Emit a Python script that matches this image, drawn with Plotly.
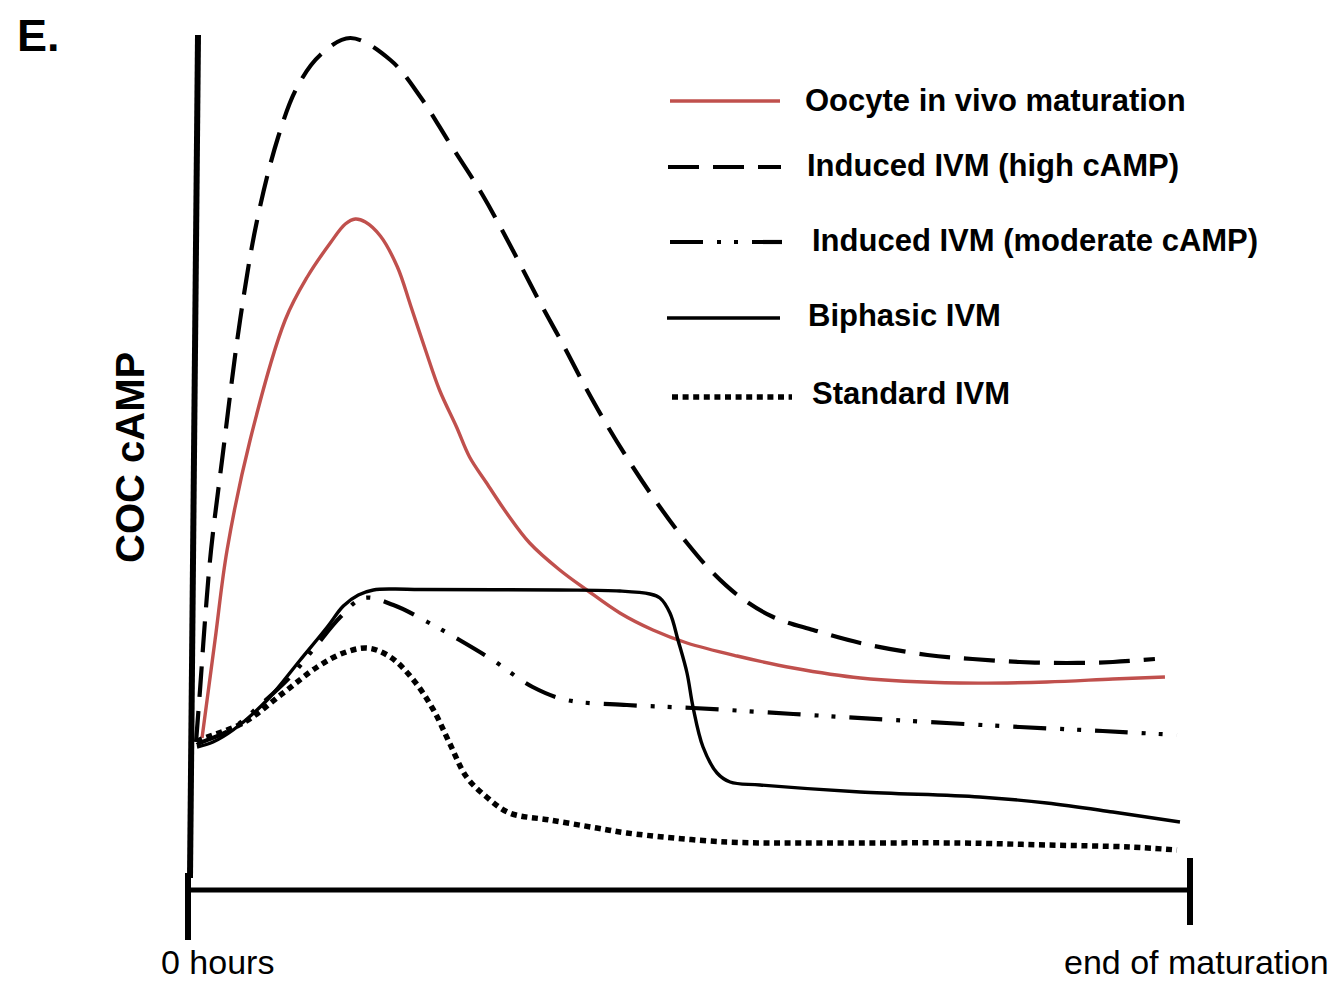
import plotly.graph_objects as go

# ---------------- data (x: % of maturation time, y: COC cAMP, arbitrary units) ----------------
invivo_x = [1.4, 2.7, 3.9, 6.2, 9.7, 11.9, 14.2, 15.7, 16.7, 17.7, 19.2, 20.9, 22.2, 23.7, 25.1,
            26.8, 28.1, 29.8, 31.8, 34.1, 37.1, 39.8, 43.1, 46.4, 49.8, 54.8, 60.4, 67.1, 77.0,
            85.7, 92.3, 97.5]
invivo_y = [15.2, 25.0, 34.0, 45.0, 57.0, 61.3, 64.7, 66.6, 67.1, 66.8, 65.4, 62.3, 58.5, 54.0, 50.0,
            46.3, 43.3, 40.7, 37.7, 34.7, 32.0, 30.0, 27.7, 26.0, 24.7, 23.4, 22.2, 21.2, 20.7,
            20.8, 21.1, 21.3]

high_x = [0.8, 1.2, 1.7, 2.3, 3.4, 5.2, 6.9, 9.0, 10.9, 13.2, 16.2, 20.2, 23.2, 26.1, 29.4, 32.4,
          35.1, 37.4, 39.6, 41.8, 44.4, 47.1, 49.8, 52.4, 55.1, 58.4, 62.4, 67.1, 73.8, 78.3,
          83.0, 87.7, 92.3, 96.5]
high_y = [14.8, 20.0, 27.0, 34.0, 43.0, 57.0, 67.0, 75.3, 80.3, 83.5, 85.2, 83.0, 79.3, 74.7, 69.5,
          64.0, 58.8, 54.6, 50.4, 46.5, 42.3, 38.3, 34.7, 31.7, 29.3, 27.3, 26.0, 24.7, 23.5,
          23.1, 22.8, 22.7, 22.8, 23.1]

moderate_x = [0.9, 1.2, 4.2, 7.2, 10.2, 12.7, 15.2, 17.5, 20.5, 23.9, 27.1, 30.4, 34.4, 37.8, 43.8,
              50.4, 60.4, 70.4, 83.0, 91.3, 98.7]
moderate_y = [14.5, 14.7, 16.0, 18.5, 21.3, 24.3, 27.3, 29.2, 28.5, 26.8, 25.0, 23.0, 20.3, 19.0,
              18.5, 18.2, 17.6, 17.0, 16.3, 15.9, 15.5]

biphasic_x = [0.9, 2.5, 4.5, 7.9, 11.2, 13.9, 15.5, 17.0, 18.5, 20.5, 23.2, 37.1, 43.1, 46.1, 47.1,
              48.1, 48.9, 49.8, 50.4, 51.4, 52.8, 54.1, 57.1, 67.1, 79.0, 85.7, 92.3, 99.0]
biphasic_y = [14.3, 14.8, 16.0, 19.0, 23.0, 26.3, 28.4, 29.5, 30.0, 30.1, 30.05, 30.0, 29.9, 29.6, 29.2,
              27.7, 25.0, 21.7, 18.3, 14.3, 11.7, 10.8, 10.5, 9.8, 9.3, 8.7, 7.8, 6.8]

standard_x = [0.9, 1.2, 5.5, 9.5, 12.9, 15.5, 17.9, 20.2, 22.5, 24.5, 26.1, 27.8, 29.8, 32.1, 36.1,
              40.8, 43.8, 53.8, 63.8, 77.0, 85.7, 94.0, 98.7]
standard_y = [14.8, 15.0, 16.7, 19.7, 22.3, 23.7, 24.2, 23.3, 21.0, 18.0, 14.7, 11.3, 9.3, 7.7, 7.0,
              6.2, 5.7, 4.8, 4.7, 4.7, 4.5, 4.3, 4.0]

series_names = ["Oocyte in vivo maturation", "Induced IVM (high cAMP)",
                "Induced IVM (moderate cAMP)", "Biphasic IVM", "Standard IVM"]
x_labels = ["0 hours", "end of maturation"]
y_title = "COC cAMP"
panel_label = "E."

# ---------------- styles ----------------
RED = "#C0504D"
styles = [
    dict(color=RED, width=3.4, dash="solid"),
    dict(color="black", width=4.2, dash="31px,14px"),
    dict(color="black", width=4.2, dash="33px,14px,4px,13px,4px,14px"),
    dict(color="black", width=3.4, dash="solid"),
    dict(color="black", width=5.5, dash="6px,4.6px"),
]

# The page body has an 8px margin, so the figure is made 8px smaller and
# positions below are given in page pixels of the reference picture.
OFF = 8
PAGE_W, PAGE_H = 1338, 983
X0_PAGE, X1_PAGE, Y0_PAGE, Y1_PAGE = 188, 1190, 890, 30   # plot area in page pixels
W, H = PAGE_W - OFF, PAGE_H - OFF
L, T = X0_PAGE - OFF, Y1_PAGE - OFF
R, B = PAGE_W - X1_PAGE, PAGE_H - Y0_PAGE
PW, PH = X1_PAGE - X0_PAGE, Y0_PAGE - Y1_PAGE


def px(xp):
    return (xp - X0_PAGE) / PW


def py(yp):
    return (Y0_PAGE - yp) / PH


fig = go.Figure()
series = [(invivo_x, invivo_y), (high_x, high_y), (moderate_x, moderate_y),
          (biphasic_x, biphasic_y), (standard_x, standard_y)]
for (xs, ys), name, st in zip(series, series_names, styles):
    fig.add_trace(go.Scatter(x=xs, y=ys, mode="lines", name=name,
                             line=dict(color=st["color"], width=st["width"], dash=st["dash"],
                                       shape="spline", smoothing=1.0),
                             showlegend=False, hoverinfo="skip"))

shapes = []
# axes drawn as thick strokes
shapes.append(dict(type="line", xref="paper", yref="paper", x0=px(190), y0=py(878), x1=px(198), y1=py(35),
                   line=dict(color="black", width=6)))
shapes.append(dict(type="line", xref="paper", yref="paper", x0=px(186), y0=py(890), x1=px(1190), y1=py(890),
                   line=dict(color="black", width=5)))
shapes.append(dict(type="line", xref="paper", yref="paper", x0=px(188), y0=py(873), x1=px(188), y1=py(940),
                   line=dict(color="black", width=6)))
shapes.append(dict(type="line", xref="paper", yref="paper", x0=px(1190), y0=py(858), x1=px(1190), y1=py(925),
                   line=dict(color="black", width=6)))

# legend samples and labels
leg_line = [(670, 780, 101), (668, 781, 167), (670, 782, 242), (667, 780, 318), (672, 792, 397)]
leg_text = [(803, 101), (805, 166), (810, 240), (806, 316), (810, 394)]
annotations = []
for (x0, x1, yy), (tx, ty), name, st in zip(leg_line, leg_text, series_names, styles):
    shapes.append(dict(type="line", xref="paper", yref="paper", x0=px(x0), y0=py(yy), x1=px(x1), y1=py(yy),
                       line=dict(color=st["color"], width=st["width"], dash=st["dash"])))
    annotations.append(dict(xref="paper", yref="paper", x=px(tx), y=py(ty), text="<b>%s</b>" % name,
                            showarrow=False, xanchor="left", yanchor="middle",
                            font=dict(family="Liberation Sans, Arial", size=31, color="black")))

annotations.append(dict(xref="paper", yref="paper", x=px(160), y=py(962), text=x_labels[0], showarrow=False,
                        xanchor="left", yanchor="middle", borderpad=0,
                        font=dict(family="Liberation Sans, Arial", size=34, color="black")))
annotations.append(dict(xref="paper", yref="paper", x=px(1330), y=py(962), text=x_labels[1], showarrow=False,
                        xanchor="right", yanchor="middle", borderpad=0,
                        font=dict(family="Liberation Sans, Arial", size=34, color="black")))
annotations.append(dict(xref="paper", yref="paper", x=px(130), y=py(458), text="<b>%s</b>" % y_title,
                        showarrow=False, textangle=-90, xanchor="center", yanchor="middle",
                        font=dict(family="Liberation Sans, Arial", size=40, color="black")))
annotations.append(dict(xref="paper", yref="paper", x=px(16), y=py(35), text="<b>%s</b>" % panel_label,
                        showarrow=False, xanchor="left", yanchor="middle", borderpad=0,
                        font=dict(family="Liberation Sans, Arial", size=45, color="black")))

fig.update_layout(
    width=W, height=H,
    margin=dict(l=L, r=R, t=T, b=B, autoexpand=False),
    paper_bgcolor="white", plot_bgcolor="white",
    xaxis=dict(range=[0, 100], visible=False, fixedrange=True),
    yaxis=dict(range=[0, 86], visible=False, fixedrange=True),
    shapes=shapes, annotations=annotations,
    showlegend=False,
)

fig.write_html("out.html")
